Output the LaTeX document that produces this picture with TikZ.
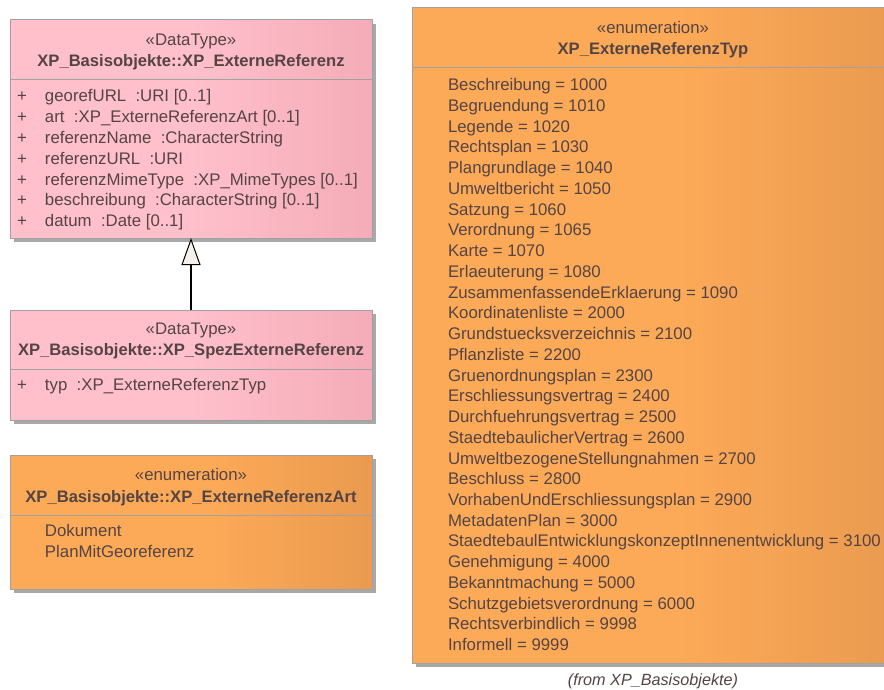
\documentclass[tikz,border=0pt]{standalone}
\usepackage{fontspec}
\setmainfont{Liberation Sans}
\usetikzlibrary{arrows.meta,shadows}
\definecolor{pinkL}{RGB}{255,192,203}
\definecolor{pinkR}{RGB}{232,152,165}
\definecolor{orL}{RGB}{253,170,88}
\definecolor{orR}{RGB}{214,138,70}
\definecolor{txt}{RGB}{84,68,68}
\definecolor{bord}{RGB}{160,160,165}
\definecolor{shad}{RGB}{168,168,168}
\definecolor{trifill}{RGB}{246,240,236}
\pgfdeclarehorizontalshading{pinkgrad}{100bp}{color(0bp)=(pinkL); color(50bp)=(pinkL); color(100bp)=(pinkR)}
\pgfdeclarehorizontalshading{orgrad}{100bp}{color(0bp)=(orL); color(52bp)=(orL); color(100bp)=(orR)}
\begin{document}
\begin{tikzpicture}[x=1pt,y=-1pt,
  every node/.style={inner sep=0pt, outer sep=0pt, text=txt, font=\fontsize{16.8}{20}\selectfont},
  umlbox/.style={draw=bord, line width=1pt, anchor=north west,
    drop shadow={shadow xshift=4pt, shadow yshift=-4pt, fill=shad, opacity=1}},
  divider/.style={draw=bord, line width=1pt},
  stereo/.style={anchor=base},
  title/.style={anchor=base, font=\fontsize{16.6}{20}\selectfont\bfseries},
  row/.style={anchor=base west},
  genarrow/.style={line width=1.3pt, draw=black, -{Triangle[length=27pt,width=19pt,fill=trifill,line width=1pt]}}
]
\useasboundingbox (0,0) rectangle (884,690);
\clip (0,0) rectangle (884,690);

% boxes
\node[umlbox, shading=pinkgrad, minimum width=362pt, minimum height=218pt] (ext) at (10,20) {};
\node[umlbox, shading=pinkgrad, minimum width=362pt, minimum height=110pt] (spez) at (10,310) {};
\node[umlbox, shading=orgrad, minimum width=362pt, minimum height=134pt] (art) at (10,455) {};
\node[umlbox, shading=orgrad, minimum width=482pt, minimum height=655pt] (typ) at (412,8) {};

% dividers
\draw[divider] (ext.west |- 0,80) -- (ext.east |- 0,80);
\draw[divider] (spez.west |- 0,369) -- (spez.east |- 0,369);
\draw[divider] (art.west |- 0,515) -- (art.east |- 0,515);
\draw[divider] (typ.west |- 0,68) -- (typ.east |- 0,68);

% headers
\node[stereo] (extS) at (191,45.7) {«DataType»};
\node[title] (extT) at (191,66.7) {XP\_Basisobjekte::XP\_ExterneReferenz};
\node[stereo] (spezS) at (191,334.3) {«DataType»};
\node[title] (spezT) at (191,355) {XP\_Basisobjekte::XP\_SpezExterneReferenz};
\node[stereo] (artS) at (191,480.7) {«enumeration»};
\node[title] (artT) at (191,502.3) {XP\_Basisobjekte::XP\_ExterneReferenzArt};
\node[stereo] (typS) at (653,33.3) {«enumeration»};
\node[title] (typT) at (653,55) {XP\_ExterneReferenzTyp};

% attributes of XP_ExterneReferenz
\foreach \t [count=\i from 0] in {
  georefURL\ \ :URI [0..1],
  art\ \ :XP\_ExterneReferenzArt [0..1],
  referenzName\ \ :CharacterString,
  referenzURL\ \ :URI,
  referenzMimeType\ \ :XP\_MimeTypes [0..1],
  beschreibung\ \ :CharacterString [0..1],
  datum\ \ :Date [0..1]} {
  \node[row] (extP\i) at (17,101.7+20.83*\i) {+};
  \node[row] (extA\i) at (45,101.7+20.83*\i) {\t};
}

% attribute of XP_SpezExterneReferenz
\node[row] (spezP0) at (17,390.7) {+};
\node[row] (spezA0) at (45,390.7) {typ\ \ :XP\_ExterneReferenzTyp};

% literals of XP_ExterneReferenzArt
\node[row] (artL0) at (45,536.7) {Dokument};
\node[row] (artL1) at (45,557.7) {PlanMitGeoreferenz};

% literals of XP_ExterneReferenzTyp
\foreach \t [count=\i from 0] in {
  Beschreibung = 1000, Begruendung = 1010, Legende = 1020, Rechtsplan = 1030,
  Plangrundlage = 1040, Umweltbericht = 1050, Satzung = 1060, Verordnung = 1065,
  Karte = 1070, Erlaeuterung = 1080, ZusammenfassendeErklaerung = 1090,
  Koordinatenliste = 2000, Grundstuecksverzeichnis = 2100, Pflanzliste = 2200,
  Gruenordnungsplan = 2300, Erschliessungsvertrag = 2400, Durchfuehrungsvertrag = 2500,
  StaedtebaulicherVertrag = 2600, UmweltbezogeneStellungnahmen = 2700, Beschluss = 2800,
  VorhabenUndErschliessungsplan = 2900, MetadatenPlan = 3000,
  StaedtebaulEntwicklungskonzeptInnenentwicklung = 3100, Genehmigung = 4000,
  Bekanntmachung = 5000, Schutzgebietsverordnung = 6000, Rechtsverbindlich = 9998,
  Informell = 9999} {
  \node[row] (typL\i) at (448,90.7+20.74*\i) {\t};
}

\node[anchor=base, font=\fontsize{16.2}{20}\selectfont\itshape] (from) at (653,685.5) {(from XP\_Basisobjekte)};

% generalization
\draw[genarrow] (spez.north) -- (ext.south);
\end{tikzpicture}
\end{document}
